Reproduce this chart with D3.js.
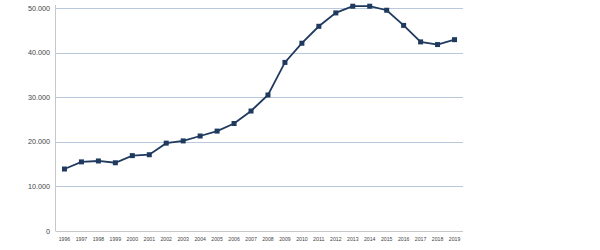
<!DOCTYPE html>
<html>
<head>
<meta charset="utf-8">
<script src="https://cdn.jsdelivr.net/npm/d3@7"></script>
<style>
  body { margin: 0; background: #fff; }
  svg text { font-family: "Liberation Sans", Arial, sans-serif; fill: #444; }
</style>
</head>
<body>
<svg id="chart" width="600" height="250"></svg>
<script>
// anos e valores
const anos = ["1996","1997","1998","1999","2000","2001","2002","2003","2004","2005","2006","2007",
              "2008","2009","2010","2011","2012","2013","2014","2015","2016","2017","2018","2019"];
const valores = [13900, 15500, 15700, 15300, 16900, 17100, 19700, 20200, 21300, 22400, 24100, 26900,
                 30500, 37800, 42100, 45900, 48900, 50400, 50400, 49500, 46100, 42400, 41800, 42900];
const ticksY = [0, 10000, 20000, 30000, 40000, 50000];

const svg = d3.select("#chart");
const margin = { left: 56, right: 137, top: 8, bottom: 19 };
const width = 600, height = 250;

const x = d3.scaleBand()
    .domain(anos)
    .range([margin.left, width - margin.right]);

const y = d3.scaleLinear()
    .domain([0, 50000])
    .range([height - margin.bottom, margin.top]);

const fmt = v => d3.format(",")(v).replace(/,/g, ".");

// grade
svg.append("g")
    .selectAll("line")
    .data(ticksY.filter(d => d > 0))
    .join("line")
    .attr("x1", margin.left).attr("x2", width - margin.right)
    .attr("y1", d => Math.round(y(d)) + 0.5).attr("y2", d => Math.round(y(d)) + 0.5)
    .attr("stroke", "#b9c8dd").attr("stroke-width", 1.2);

// eixos
svg.append("line")
    .attr("x1", margin.left - 0.5).attr("x2", margin.left - 0.5)
    .attr("y1", margin.top - 3).attr("y2", y(0))
    .attr("stroke", "#c8c8c8");
svg.append("line")
    .attr("x1", margin.left - 0.5).attr("x2", width - margin.right)
    .attr("y1", Math.round(y(0)) + 0.5).attr("y2", Math.round(y(0)) + 0.5)
    .attr("stroke", "#c8c8c8");

svg.append("g")
    .selectAll("text")
    .data(ticksY)
    .join("text")
    .attr("x", margin.left - 6)
    .attr("y", d => y(d))
    .attr("dy", "0.35em")
    .attr("text-anchor", "end")
    .attr("font-size", 7.2)
    .text(fmt);

svg.append("g")
    .selectAll("text")
    .data(anos)
    .join("text")
    .attr("x", d => x(d) + x.bandwidth() / 2)
    .attr("y", y(0) + 8)
    .attr("dy", "0.35em")
    .attr("text-anchor", "middle")
    .attr("font-size", 5.6)
    .attr("textLength", 11.5)
    .attr("lengthAdjust", "spacingAndGlyphs")
    .text(d => d);

// linha
const linha = d3.line()
    .x((d, i) => x(anos[i]) + x.bandwidth() / 2)
    .y(d => y(d));

svg.append("path")
    .datum(valores)
    .attr("fill", "none")
    .attr("stroke", "#1f3a5e")
    .attr("stroke-width", 1.8)
    .attr("d", linha);

svg.append("g")
    .selectAll("rect")
    .data(valores)
    .join("rect")
    .attr("x", (d, i) => x(anos[i]) + x.bandwidth() / 2 - 2.5)
    .attr("y", d => y(d) - 2.5)
    .attr("width", 5).attr("height", 5)
    .attr("fill", "#1f3a5e");
</script>
</body>
</html>
